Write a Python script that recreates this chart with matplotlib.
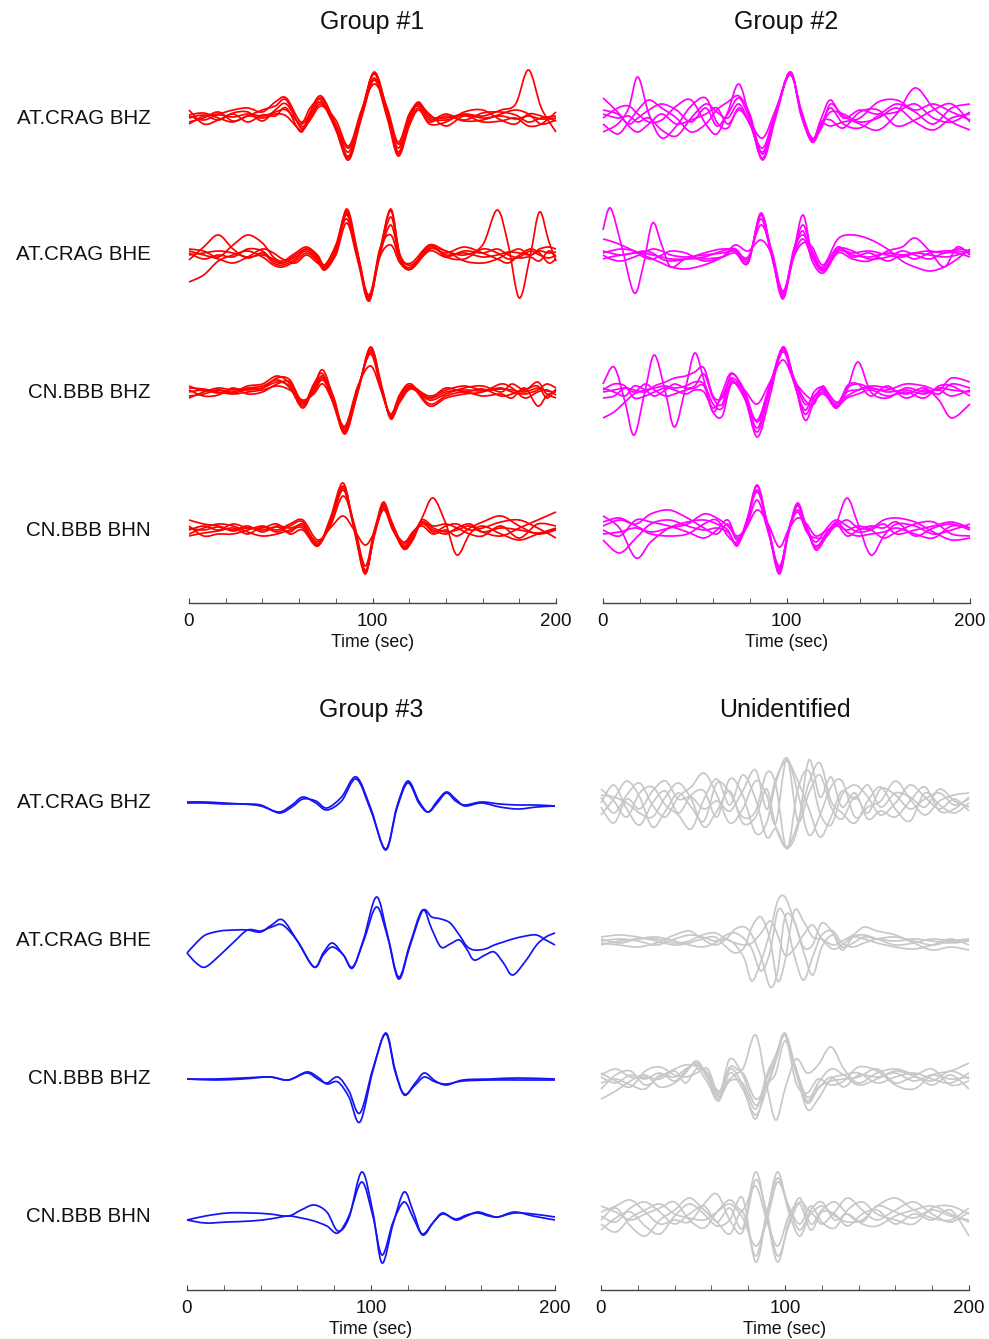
import numpy as np
import matplotlib
matplotlib.use("Agg")
import matplotlib.pyplot as plt
from matplotlib.path import Path
from matplotlib.patches import PathPatch
from matplotlib.ticker import MultipleLocator

plt.rcParams['font.family'] = ['Liberation Sans', 'DejaVu Sans']

stations = ["AT.CRAG BHZ", "AT.CRAG BHE", "CN.BBB BHZ", "CN.BBB BHN"]
titles = ["Group #1", "Group #2", "Group #3", "Unidentified"]
colors = ["#ff0000", "#ff00ff", "#1414f5", "#c8c8c8"]

# ---- Group #1 (values are trace deflections) ----
g1_bhz_t = [0, 8, 16, 24, 32, 40, 47, 53, 61, 66, 72, 80, 87, 94, 101, 108, 114, 120, 125, 131, 140, 150, 160, 170, 178, 185, 192, 200]
g1_bhz = [
    [2, -2, 3, 1, 4, 2, 6, 8, -6, 4, 16, -8, -34, 6, 44, 4, -30, 2, 12, 0, -2, 3, 0, 2, -1, 2, -1, 0],
    [-4, 0, 6, -3, 2, 8, 12, 18, -10, 2, 20, -8, -40, 4, 46, 6, -36, -4, 14, -2, 4, -2, 5, 6, 3, -4, 0, 2],
    [8, -6, -2, 4, -4, 3, 2, 10, -14, 6, 22, -6, -30, 2, 40, 2, -26, -6, 10, -6, -4, 6, 8, -2, -6, 4, 2, -3],
    [0, 3, -2, 5, 6, -3, 8, 14, -8, 0, 14, -10, -38, 6, 45, 8, -34, 0, 16, 2, 0, 4, 2, 8, 14, 48, 10, -14],
    [-6, 2, 4, 8, 10, 6, 16, 20, -4, 10, 18, -12, -42, 0, 38, 0, -38, -8, 8, -4, 2, -3, -2, 4, 8, 4, -6, -2],
    [3, 5, 0, -4, 2, 0, 4, 2, -12, -2, 12, -2, -28, 8, 34, 10, -24, 4, 14, 4, -8, 2, -4, -3, 0, -8, -6, 6],
]
g1_bhe_t = [0, 8, 16, 24, 32, 40, 46, 51, 58, 64, 70, 74, 80, 86, 92, 98, 104, 110, 115, 121, 131, 140, 150, 160, 168, 174, 180, 186, 191, 196, 200]
g1_bhe = [
    [0, 2, 4, 2, -2, 0, -4, -8, -2, 4, -4, -12, 6, 44, 0, -46, 4, 44, -2, -12, 8, 0, 2, -2, 0, 3, 2, 0, 4, 2, 3],
    [-5, 8, 20, 6, -3, 2, -8, -10, -4, 6, -2, -14, 4, 40, -2, -44, 0, 30, -4, -14, 10, -2, -4, 6, 2, -4, -2, 4, 0, -3, 0],
    [6, 4, -2, 10, 20, 12, -2, -6, 2, 8, 0, -10, 8, 36, -4, -42, 2, 38, 0, -10, 6, 4, -6, -8, -4, 2, 6, 0, 6, 8, 6],
    [-27, -20, -6, 0, 4, -2, -10, -12, -6, 2, -6, -15, 2, 46, 2, -44, 6, 20, -6, -14, 4, -2, 4, 2, 6, 0, -3, -2, -6, 4, -2],
    [2, -4, 0, -2, 6, 4, -6, -8, 0, 6, -2, -10, 10, 42, 0, -40, 4, 46, 0, -8, 10, 4, 0, 10, 45, 10, -43, 0, 43, 14, -6],
    [4, 0, -4, -8, -2, 6, 2, -4, -8, 0, -8, -12, 0, 32, -6, -46, -2, 10, -8, -14, 6, 2, 8, 2, -4, -8, 0, 6, 2, -8, -4],
]
g1_bbz_t = [0, 8, 16, 24, 32, 40, 48, 55, 62, 68, 73, 79, 85, 92, 99, 105, 110, 115, 121, 131, 140, 150, 160, 170, 176, 183, 190, 195, 200]
g1_bbz = [
    [0, 2, -1, 3, 2, 4, 10, 6, -10, 2, 14, -10, -38, 2, 42, 2, -24, -6, 6, -6, 0, 2, 1, 3, 2, 0, 4, 1, 0],
    [-4, -2, 2, 0, 6, 8, 16, 8, -14, 6, 22, -8, -42, 0, 45, 4, -26, -8, 4, -8, -2, 4, 6, 0, 8, 2, 10, -2, 2],
    [4, 3, 0, -2, 0, 2, 6, 2, -8, -2, 8, -12, -34, 6, 26, 0, -22, -2, 8, -12, -4, 0, -4, -2, -6, 4, -14, -4, -6],
    [-6, 0, 4, 2, 4, 6, 12, 4, -16, 4, 16, -6, -40, 0, 44, 6, -27, -6, 5, -4, 2, 6, 2, 4, 0, -2, 2, 8, 4],
    [2, -4, -3, 4, -2, 0, 8, 10, -10, 0, 12, -10, -36, 4, 38, 0, -24, -4, 6, -14, -6, -2, 0, 8, 4, -6, 0, 2, -3],
    [6, 1, 2, -1, 3, 4, 14, 12, -12, 8, 18, -14, -40, 2, 40, 4, -25, -10, 3, -6, 4, 0, 3, -4, -2, 2, 6, -6, 3],
]
g1_bbn_t = [0, 8, 16, 24, 32, 40, 48, 55, 62, 70, 77, 84, 90, 96, 101, 106, 111, 117, 122, 127, 133, 140, 146, 153, 160, 170, 180, 190, 200]
g1_bbn = [
    [2, 0, 3, -1, 2, 0, 3, -2, 6, -14, 8, 44, 4, -42, -4, 26, 4, -16, -4, 8, 2, -2, 0, 4, -2, 2, 0, -3, 1],
    [-6, -3, -1, 2, -4, 3, -2, 4, 8, -16, 12, 47, 0, -44, -2, 28, 2, -18, -8, 10, 4, 6, 2, -4, -6, 4, -8, 6, 4],
    [10, 6, 4, 0, 4, -2, 4, 2, 4, -12, 4, 34, 6, -36, 0, 22, 0, -14, -2, 4, -4, 0, -6, 2, 8, 14, 4, -4, 0],
    [-4, 2, 6, 4, -2, -6, -4, 0, 2, -15, 6, 40, 2, -40, -6, 24, 6, -17, -6, 12, 32, 6, -25, -4, 4, -4, -10, -4, 2],
    [4, -6, -4, -4, 0, 4, 0, 6, 10, -10, 2, 14, 0, -15, -2, 20, 2, -12, -2, 6, 0, -4, 2, 6, -2, -6, 2, 10, 18],
    [0, 4, 0, 6, 2, 2, 6, -4, 0, -16, 10, 42, 3, -43, -3, 24, 3, -19, -10, 8, -2, 4, 6, 0, 2, 8, 10, 2, -8],
]

# ---- Group #2 ----
g2_bhz_t = [0, 8, 14, 19, 25, 32, 40, 48, 56, 62, 68, 74, 80, 87, 94, 102, 108, 114, 119, 124, 131, 140, 150, 160, 170, 180, 190, 200]
g2_bhz = [
    [8, 4, -6, 0, 8, 14, 8, -4, 10, -8, 4, 20, -2, -40, 2, 46, 4, -24, -6, 10, -6, -10, 2, 6, 14, 0, -4, 6],
    [-14, -6, 10, 41, 4, -20, -8, 12, 20, -4, -10, 10, -6, -30, 6, 44, 6, -20, -10, 14, 2, -6, -12, 4, 30, 10, -4, -12],
    [0, 10, 12, 4, -4, -2, 12, 18, -6, -16, 6, 34, 0, -42, 0, 46, 2, -22, 0, 18, 0, 8, 4, 14, 6, -6, 10, 14],
    [20, 6, -8, -14, -6, 4, -6, -2, 4, 10, -6, 8, -4, -20, 8, 43, 8, -22, -4, -2, -10, 6, 8, -8, -2, 8, 14, -4],
    [-6, -16, -4, 8, 18, 10, 0, -14, -6, 8, 16, 22, 4, -36, 4, 46, 4, -24, -8, 6, 4, -4, 0, 10, -4, -12, 0, 4],
    [4, 0, 2, -4, 0, -12, -18, 0, 14, 6, 0, 14, -6, -34, 4, 45, 6, -22, -6, -8, -4, 0, 16, 18, 8, 14, 6, -2],
]
g2_bhe_t = [0, 4, 10, 17, 22, 27, 32, 37, 45, 55, 65, 72, 79, 86, 92, 98, 104, 109, 114, 120, 128, 136, 145, 155, 163, 170, 178, 186, 193, 200]
g2_bhe = [
    [25, 47, 10, -38, -10, 32, 10, -12, -4, -4, -2, 2, -8, 40, 0, -42, 4, 40, 0, -16, 4, 0, -2, 2, 0, 2, 0, -2, 0, 4],
    [16, 14, 10, 4, 0, -4, -8, -12, -14, -10, -2, 10, 4, 15, 0, -38, -2, 12, 8, -10, 16, 20, 16, 6, -6, -12, -16, -12, -4, 6],
    [4, 2, 0, 2, 2, 0, -2, -4, -4, -2, 4, 6, -6, 40, 2, -40, 4, 30, 2, -15, 4, 2, 4, 0, -2, 2, 4, 2, 6, 4],
    [-4, -2, 0, 2, 4, 2, -4, -6, -4, 2, 6, 4, -8, 42, 0, -44, 2, 24, -6, -18, 2, -4, -6, 4, 8, 17, 4, -12, 8, 0],
    [2, 4, 6, 4, -2, -4, 0, 4, 2, -6, -2, 6, -4, 36, -2, -40, 6, 20, 4, -14, 6, 4, -4, -2, 4, 0, -4, 2, 2, -2],
    [0, -4, -6, -2, 2, 6, 4, 0, -2, 0, 2, 4, -2, 30, 4, -36, 0, 16, -2, -12, 8, -2, 2, -6, 0, -4, 2, 4, 4, 2],
]
g2_bbz_t = [0, 6, 12, 17, 23, 28, 34, 39, 45, 50, 55, 60, 65, 70, 77, 84, 91, 98, 104, 110, 115, 120, 127, 133, 139, 146, 155, 165, 175, 183, 190, 200]
g2_bbz = [
    [8, 25, -10, -43, 2, 37, 0, -35, 4, 39, 12, -20, 0, 19, 2, -30, 4, 44, 10, -18, 0, 4, -14, 0, 2, 4, 0, 2, -2, 4, 2, 0],
    [0, 2, 4, 2, 0, 6, 10, 14, 16, 20, 24, -4, -6, 14, -2, -45, -4, 45, 12, -28, -10, 0, -16, 2, 30, 0, -6, 4, 0, 2, -4, 2],
    [-26, -20, -10, -2, 2, 4, 6, 4, 6, 10, 8, -12, -16, 10, -6, -40, 2, 40, 10, -22, -6, 4, -10, -4, 2, 6, 4, -2, 4, -8, -26, -12],
    [4, 0, -4, 6, 2, -4, 2, 8, 4, 6, 18, -6, -12, 18, 0, -36, 6, 44, 14, -12, -4, 2, -12, 4, 8, 4, 2, 8, 6, 2, 14, 10],
    [-6, -4, 4, 0, 8, 2, -4, -2, 2, 4, 6, -20, -24, 8, 2, -12, 10, 32, 12, -2, -8, -2, -14, -6, -2, 2, -4, 0, -6, 6, 6, -4],
    [2, 8, 6, -6, -4, 0, 4, 2, -2, 2, 0, -16, -4, 12, -4, -28, 8, 42, 14, -8, -12, 6, -16, 6, 8, -4, 6, -6, 2, -2, 8, 4],
]
g2_bbn_t = [0, 9, 18, 26, 36, 46, 55, 62, 68, 73, 78, 84, 90, 96, 101, 106, 111, 116, 122, 127, 133, 139, 146, 153, 160, 170, 180, 190, 200]
g2_bbn = [
    [-10, -23, -8, 6, 10, 4, 0, 2, -2, -14, 4, 44, 2, -40, -2, 26, 0, -16, -4, 6, 32, 6, -25, -6, 6, 4, -4, 0, 6],
    [14, 2, -28, -12, 2, 8, 10, 6, 0, -16, 8, 38, 4, -42, 0, 20, 4, -20, -6, 4, 0, 4, 2, 10, 12, 8, -2, -10, -8],
    [4, 10, 6, 16, 20, 12, 2, -4, 6, -10, 2, 30, -2, -36, -4, 24, 2, -12, 2, 10, 4, -2, 0, 6, -4, 0, 4, 8, 2],
    [-4, -2, 2, -4, -6, -4, 6, 10, -6, -12, 6, 45, 2, -38, -2, 18, -2, -8, -6, 8, -2, -6, -4, -2, 2, -4, -8, 4, 2],
    [8, 12, 4, -2, 2, 6, 16, 12, 4, -6, 2, 20, 6, -17, 0, 12, 6, -6, 0, 4, 10, 2, 0, -8, -2, 6, 8, -4, -6],
    [0, -6, 10, 8, 4, -2, -8, 0, 10, -8, 4, 40, 0, -44, -4, 27, 2, -18, -2, 6, -6, 0, 4, 2, 8, -6, 2, 6, 0],
]

# ---- Group #3 ----
g3_bhz_t = [0, 10, 20, 30, 40, 50, 57, 63, 70, 76, 84, 92, 100, 108, 114, 120, 126, 131, 136, 141, 146, 151, 160, 170, 180, 190, 200]
g3_bhz = [
    [1, 1, 0, -1, -2, -10, -4, 4, 2, -5, 6, 26, -6, -47, -4, 22, 2, -9, 0, 10, 2, -2, 1, -1, -2, -2, -3],
    [0, 0, -1, -1, -3, -9, -2, 6, 0, -7, 2, 24, -8, -46, -6, 20, 0, -9, 2, 11, 4, -3, 0, -4, -6, -4, -3],
]
g3_bhe_t = [0, 5, 10, 18, 26, 33, 40, 46, 52, 60, 69, 74, 79, 85, 90, 96, 103, 109, 115, 121, 128, 133, 138, 143, 148, 152, 156, 162, 167, 172, 177, 184, 190, 195, 200]
g3_bhe = [
    [-12, -22, -26, -14, 0, 11, 10, 14, 16, 0, -26, -14, -6, -14, -27, 2, 44, 6, -36, -4, 31, 12, -6, -3, 1, -8, -19, -14, -11, -22, -34, -20, -4, 4, 8],
    [-12, -2, 6, 10, 11, 11, 9, 16, 21, 0, -26, -12, -2, -14, -26, 0, 34, 4, -38, -6, 30, 24, 22, 18, 6, -5, -9, -8, -4, -1, 2, 5, 6, 1, -4],
]
g3_bbz_t = [0, 15, 30, 45, 55, 65, 71, 76, 82, 88, 94, 101, 108, 113, 118, 124, 129, 135, 141, 150, 165, 180, 200]
g3_bbz = [
    [0, -1, 0, 2, -1, 7, 2, -5, -3, -18, -43, 8, 46, 10, -16, -4, 6, -2, -6, -1, 0, 1, 0],
    [0, 0, 1, 2, -1, 6, 0, -4, 2, -12, -34, 10, 45, 8, -15, -6, 2, -3, -5, -2, -1, -1, -1],
]
g3_bbn_t = [0, 10, 22, 35, 45, 55, 62, 69, 76, 82, 88, 95, 101, 106, 112, 118, 123, 128, 134, 139, 146, 152, 158, 164, 169, 178, 188, 200]
g3_bbn = [
    [-4, 0, 3, 3, 2, 0, 6, 11, 4, -15, -2, 44, 4, -47, -8, 24, 4, -19, -6, 3, -4, 0, 4, 1, -1, 4, 0, -4],
    [-4, -7, -6, -5, -3, 0, -2, -5, -10, -17, 0, 34, 0, -39, -6, 14, -2, -18, -6, 2, -3, 1, 3, 0, -1, 3, 2, -1],
]

# ---- Unidentified ----
gu_bhz_t = [0, 7, 14, 21, 28, 35, 42, 49, 56, 63, 70, 77, 84, 90, 95, 101, 107, 113, 119, 125, 131, 138, 145, 152, 160, 168, 176, 184, 192, 200]
gu_bhz = [
    [6, -10, 8, 20, -2, -14, 6, 16, 30, 8, -20, -6, 22, 8, -20, 44, -18, 10, 28, -4, -16, 6, -10, 14, 8, -6, 4, 10, -2, 4],
    [-12, 4, 22, 6, -24, -8, 10, -4, -18, 20, 10, -14, -8, 30, 18, -46, 14, 32, -10, -22, 8, 18, 6, -12, 0, 18, 6, -6, 4, -8],
    [0, 18, -6, -22, 0, 12, -10, 8, 12, -14, 24, 8, -30, -20, 20, 45, 10, -32, -12, 16, 22, -14, -4, 2, 22, 4, -12, 2, 8, 10],
    [14, 2, -14, 10, 16, -2, -12, -26, 4, 24, -2, 28, 4, -34, -26, -44, -20, 20, 40, 2, -10, -20, 2, 16, -6, -18, 10, -2, -10, 0],
    [-4, -20, 4, -6, 12, 22, 4, 6, -6, 2, -8, 12, 33, -6, 24, 42, 22, -6, -34, -14, 12, 4, 18, -4, 10, 6, -4, 14, 2, -4],
    [8, 6, 0, -10, -14, 6, 20, 4, -24, -8, 12, -20, -14, 14, -24, -45, -24, 43, 6, 26, -4, 10, -16, -8, -14, 2, 16, -8, -6, 6],
]
gu_bhe_t = [0, 10, 20, 30, 40, 48, 55, 62, 68, 73, 78, 82, 87, 92, 96, 100, 105, 110, 115, 120, 126, 131, 137, 143, 150, 160, 170, 180, 190, 200]
gu_bhe = [
    [0, 2, 0, -4, 2, 6, 4, 0, 2, -4, -18, -40, -20, 10, 40, 44, 20, -10, -34, -6, 6, -6, -2, 4, 2, 0, 2, 0, -2, 0],
    [-2, -4, -6, -2, 6, 10, 2, -4, 2, 12, 14, 6, -16, -46, -30, 24, 20, -6, -4, 18, 8, -9, 4, 6, 2, -4, -2, 2, 0, 0],
    [4, 6, 4, 0, -4, -2, 2, 4, -6, -12, -6, 14, 24, 0, -40, -20, 30, 20, 4, 2, -4, 0, 6, 14, 10, 6, -2, -9, -6, -9],
    [2, -2, 2, 4, 0, -4, -6, -2, 6, 8, 2, -8, -30, -10, 30, 24, -14, -39, -16, 6, 10, -2, -6, -2, 2, 4, 0, -4, 0, 2],
    [-4, 0, 2, 2, -2, 0, 6, 8, 2, -2, -4, -2, 8, 20, 6, -14, -8, 6, 16, 2, -8, -4, 4, 2, -2, -6, -8, -4, 2, -4],
]
gu_bbz_t = [0, 8, 16, 24, 32, 40, 46, 52, 58, 64, 70, 77, 84, 90, 95, 100, 106, 112, 118, 125, 132, 140, 150, 160, 170, 180, 190, 200]
gu_bbz = [
    [2, -4, 4, 0, 6, -2, 8, 16, 0, -20, 10, -6, -40, 0, 20, 46, 6, -24, -10, 2, -8, 4, 2, 6, -2, 4, 0, 2],
    [-10, 4, 8, -6, 2, 10, 14, 12, -4, -22, 6, -10, -36, -10, 18, 45, 8, -30, -20, 0, 4, 6, -4, 2, 6, 0, -4, 6],
    [6, -2, -8, 8, 12, 4, 2, 6, 10, -14, 12, 10, 44, -6, -41, -10, 20, 6, 14, 32, 10, -4, 6, 10, 4, -6, 4, -10],
    [-20, -12, -2, 4, -8, -4, 6, 18, 2, -18, -2, -4, -30, 4, 24, 44, -4, -14, 0, -6, -2, 12, 8, -6, -10, 4, 8, 16],
    [4, 10, 2, 2, 0, 8, -4, 10, 6, -16, 20, 4, -26, -6, 6, 38, 10, -22, -4, 10, 4, -6, 0, 8, 4, 10, -6, -2],
    [-4, 0, -6, -10, 4, 2, 10, 14, 4, -12, 0, 6, -20, -6, 20, 44, 10, -18, -8, -2, 0, 2, 10, -4, 2, -2, 8, 0],
]
gu_bbn_t = [0, 8, 16, 24, 32, 40, 48, 56, 63, 70, 77, 84, 90, 96, 102, 108, 114, 120, 127, 134, 142, 150, 160, 170, 180, 190, 200]
gu_bbn = [
    [0, -6, 8, 14, 4, -8, 2, 10, -6, 8, -12, 44, 0, -46, -6, 18, -8, 6, 14, 2, -6, 10, 4, -2, 6, 0, -4],
    [-14, -2, 4, -10, -18, 0, 12, 2, -10, -4, 18, -46, 0, 44, 4, -20, 2, -8, 4, 18, 6, -4, 6, 14, 2, -6, 4],
    [10, 4, -4, 2, 8, 14, -4, -12, 4, 16, 6, 30, -4, -30, 0, 12, -14, 4, 2, -10, 2, 6, -8, 2, -4, 6, -20],
    [-4, 8, -10, -20, -4, 6, 18, 6, -6, -18, 4, -40, 2, 38, 10, -8, 10, -6, -12, 6, 14, 2, -4, -8, 8, 10, 2],
    [4, 10, 16, 4, -8, -4, -6, 12, 22, -4, -16, 36, 4, -40, -10, 14, 4, 10, 0, -6, -4, 10, 18, 6, -2, -4, 8],
    [-8, -16, -2, 6, 12, 2, -2, -4, 4, 12, -2, -30, -6, 34, 8, -14, 6, 14, -4, 2, -8, -10, 0, 6, 10, 2, -6],
]


def trace_path(t, v, off):
    # smooth curve through the read values (Catmull-Rom as cubic Bezier)
    p = np.column_stack([np.asarray(t, float), np.asarray(v, float) + off])
    verts = [p[0]]
    codes = [Path.MOVETO]
    n = len(p)
    for i in range(n - 1):
        p0 = p[i - 1] if i > 0 else p[i]
        p3 = p[i + 2] if i + 2 < n else p[i + 1]
        verts += [p[i] + (p[i + 1] - p0) / 6, p[i + 1] - (p3 - p[i]) / 6, p[i + 1]]
        codes += [Path.CURVE4] * 3
    return Path(verts, codes)


W, H = 989, 1339
fig = plt.figure(figsize=(W / 100, H / 100), dpi=100)

panels = [
    # (x0, x1, ytop, ybottom, row centres in px, rows)
    (189, 556, 58, 603, [118, 255, 392, 530],
     [(g1_bhz_t, g1_bhz), (g1_bhe_t, g1_bhe), (g1_bbz_t, g1_bbz), (g1_bbn_t, g1_bbn)]),
    (603, 970, 58, 603, [118, 255, 392, 530],
     [(g2_bhz_t, g2_bhz), (g2_bhe_t, g2_bhe), (g2_bbz_t, g2_bbz), (g2_bbn_t, g2_bbn)]),
    (187, 555, 745, 1290, [803, 941, 1079, 1216],
     [(g3_bhz_t, g3_bhz), (g3_bhe_t, g3_bhe), (g3_bbz_t, g3_bbz), (g3_bbn_t, g3_bbn)]),
    (601, 969, 745, 1290, [803, 941, 1079, 1216],
     [(gu_bhz_t, gu_bhz), (gu_bhe_t, gu_bhe), (gu_bbz_t, gu_bbz), (gu_bbn_t, gu_bbn)]),
]

for k, (x0, x1, ytop, ybot, centres, rows) in enumerate(panels):
    ax = fig.add_axes([x0 / W, 1 - ybot / H, (x1 - x0) / W, (ybot - ytop) / H])
    ax.set_xlim(0, 200)
    ax.set_ylim(-(ybot - centres[0]), centres[0] - ytop)
    for c, (t, traces) in zip(centres, rows):
        off = -(c - centres[0])
        for v in traces:
            ax.add_patch(PathPatch(trace_path(t, v, off), fill=False,
                                   edgecolor=colors[k], lw=1.25, clip_on=False))
    for s in ["top", "left", "right"]:
        ax.spines[s].set_visible(False)
    ax.spines["bottom"].set_color("#444444")
    ax.spines["bottom"].set_linewidth(1.0)
    ax.set_yticks([])
    ax.set_xticks([0, 100, 200])
    ax.xaxis.set_minor_locator(MultipleLocator(20))
    ax.tick_params(axis="x", which="both", direction="in", length=3.5,
                   color="#444444", labelsize=13.5, pad=7, labelcolor="#111111")
    ax.set_xlabel("Time (sec)", fontsize=12.8, labelpad=3, color="#111111")
    ax.patch.set_visible(False)

    # title and station labels
    fig.text((x0 + x1) / 2 / W, 1 - (22 if k < 2 else 710) / H, titles[k],
             ha="center", va="center", fontsize=18, color="#111111")
    if k % 2 == 0:
        for c, name in zip(centres, stations):
            fig.text(151 / W, 1 - c / H, name, ha="right", va="center",
                     fontsize=14.8, color="#111111")

fig.savefig("out.png", dpi=100)
